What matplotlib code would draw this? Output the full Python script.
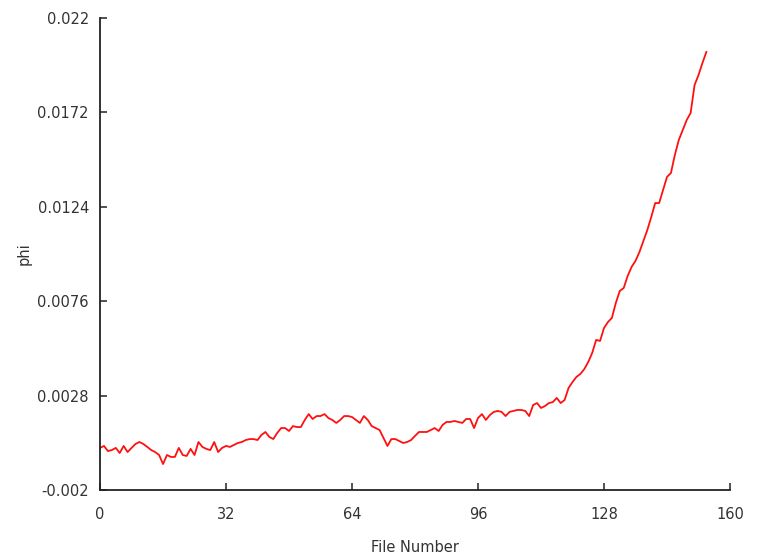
import numpy as np
import matplotlib
matplotlib.use("Agg")
import matplotlib.pyplot as plt

# phi per file
file_number = np.arange(155)
phi = [
    0.00014, 0.00024, -0.00002, 0.00003, 0.00014, -0.00012, 0.00024, -0.00007, 0.00014, 0.00034,
    0.00044, 0.00034, 0.00019, 0.00003, -0.00007, -0.00022, -0.00068, -0.00022, -0.00032, -0.00032,
    0.00014, -0.00022, -0.00027, 0.00009, -0.00022, 0.00044, 0.00019, 0.00009, 0.00003, 0.00044,
    -0.00007, 0.00014, 0.00024, 0.00019, 0.00029, 0.00039, 0.00044, 0.00054, 0.00059, 0.00059,
    0.00054, 0.00080, 0.00095, 0.00070, 0.00059, 0.00090, 0.00115, 0.00115, 0.00100, 0.00125,
    0.00120, 0.00120, 0.00156, 0.00186, 0.00161, 0.00176, 0.00176, 0.00186, 0.00166, 0.00156,
    0.00141, 0.00156, 0.00176, 0.00176, 0.00171, 0.00156, 0.00141, 0.00176, 0.00156, 0.00125,
    0.00115, 0.00105, 0.00064, 0.00024, 0.00059, 0.00059, 0.00049, 0.00039, 0.00044, 0.00054,
    0.00075, 0.00095, 0.00095, 0.00095, 0.00105, 0.00115, 0.00100, 0.00131, 0.00146, 0.00146,
    0.00151, 0.00146, 0.00141, 0.00161, 0.00161, 0.00115, 0.00166, 0.00186, 0.00156, 0.00181,
    0.00197, 0.00202, 0.00197, 0.00176, 0.00197, 0.00202, 0.00207, 0.00207, 0.00202, 0.00176,
    0.00232, 0.00242, 0.00217, 0.00227, 0.00242, 0.00247, 0.00268, 0.00242, 0.00258, 0.00319,
    0.00349, 0.00375, 0.00390, 0.00415, 0.00451, 0.00497, 0.00563, 0.00558, 0.00624, 0.00654,
    0.00675, 0.00751, 0.00812, 0.00827, 0.00888, 0.00934, 0.00965, 0.01010, 0.01066, 0.01122,
    0.01188, 0.01259, 0.01259, 0.01326, 0.01392, 0.01412, 0.01504, 0.01580, 0.01631, 0.01681,
    0.01717, 0.01859, 0.01910, 0.01971, 0.02027,
]

xticks = [0, 32, 64, 96, 128, 160]
yticks = [-0.002, 0.0028, 0.0076, 0.0124, 0.0172, 0.022]
ytick_labels = ["-0.002", "0.0028", "0.0076", "0.0124", "0.0172", "0.022"]

fig = plt.figure(figsize=(7.59, 5.56), dpi=100)
ax = fig.add_axes([0.1318, 0.1187, 0.83, 0.849])
ax.plot(file_number, phi, color="#ff1010", linewidth=1.3)

ax.set_xlim(0, 160)
ax.set_ylim(-0.002, 0.022)
ax.set_xticks(xticks)
ax.set_xticklabels([str(t) for t in xticks])
ax.set_yticks(yticks)
ax.set_yticklabels(ytick_labels)

for side in ["top", "right"]:
    ax.spines[side].set_visible(False)
for side in ["left", "bottom"]:
    ax.spines[side].set_linewidth(1.3)
    ax.spines[side].set_color("#222222")

ax.tick_params(direction="in", length=5, width=1.2, labelsize=10.5,
               colors="#333333")
ax.tick_params(axis="x", pad=12)
ax.tick_params(axis="y", pad=8)
ax.set_xlabel("File Number", fontsize=10.5, color="#333333")
ax.set_ylabel("phi", fontsize=10.5, color="#333333")
ax.xaxis.set_label_coords(0.5, -0.106)
ax.yaxis.set_label_coords(-0.108, 0.5)

fig.savefig("out.png", dpi=100)
